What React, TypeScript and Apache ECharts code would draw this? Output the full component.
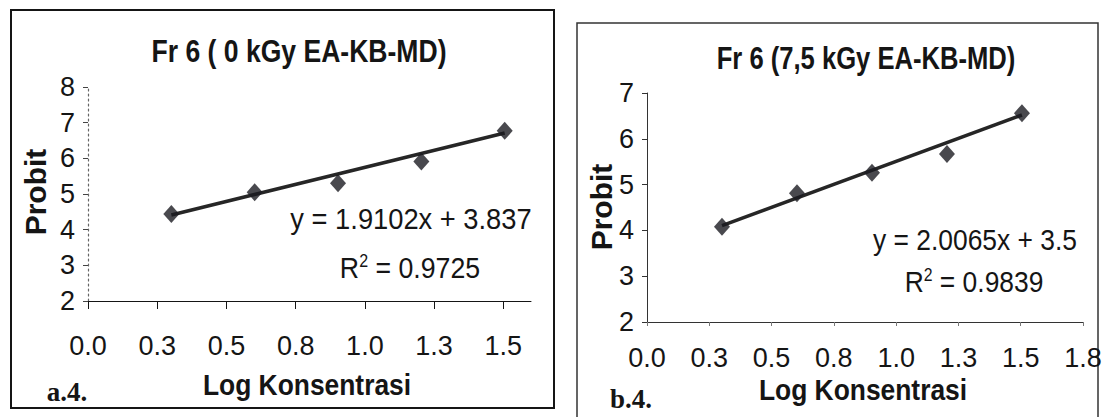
import React, { useEffect, useRef } from 'react';
import * as echarts from 'echarts';

// ---- data ----
const logConc = [0.301, 0.602, 0.903, 1.204, 1.505];
const probitA = [4.44, 5.05, 5.3, 5.91, 6.77];
const probitB = [4.08, 4.81, 5.26, 5.67, 6.56];
const slopeA = 1.9102;
const interceptA = 3.837;
const r2A = '0.9725';
const slopeB = 2.0065;
const interceptB = 3.5;
const r2B = '0.9839';
const xTicksA = [0, 0.25, 0.5, 0.75, 1, 1.25, 1.5];
const titleA = 'Fr 6 ( 0 kGy EA-KB-MD)';
const titleB = 'Fr 6 (7,5 kGy EA-KB-MD)';
const xTitle = 'Log Konsentrasi';
const yTitle = 'Probit';
const panelA = 'a.4.';
const panelB = 'b.4.';

const FONT = "'Liberation Sans', Arial, sans-serif";
const SERIF = "'Liberation Serif', 'Times New Roman', serif";
const INK = '#151515';

const trend = (slope: number, intercept: number) => [
  [logConc[0], slope * logConc[0] + intercept],
  [logConc[logConc.length - 1], slope * logConc[logConc.length - 1] + intercept],
];

const pts = (ys: number[]) => logConc.map((x, i) => [x, ys[i]]);

const fmt = (v: number) => v.toFixed(1);

export default function App() {
  const ref = useRef<HTMLDivElement>(null);
  useEffect(() => {
    if (!ref.current) return;
    const chart = echarts.init(ref.current, null, { renderer: 'svg' });
    const txt = (text: string, x: number, y: number, size: number, bold: boolean, sx = 1, family = FONT, extra: any = {}) => ({
      type: 'text',
      x,
      y,
      scaleX: sx,
      ...extra,
      style: {
        text,
        fill: INK,
        font: `${bold ? 'bold ' : ''}${size}px ${family}`,
        textAlign: 'center',
        textVerticalAlign: 'middle',
      },
    });
    const r2 = (val: string, x: number, y: number, sx: number) => ({
      type: 'text',
      x,
      y,
      scaleX: sx,
      style: {
        text: `{b|R}{s|2}{b| = ${val}}`,
        fill: INK,
        textAlign: 'center',
        textVerticalAlign: 'middle',
        rich: {
          b: { fontSize: 30, fontFamily: FONT, fill: INK, verticalAlign: 'bottom', lineHeight: 30 },
          s: { fontSize: 18, fontFamily: FONT, fill: INK, verticalAlign: 'top', lineHeight: 30, padding: [0, 0, 14, 0] },
        },
      },
    });
    const xAxisCommon = {
      type: 'value',
      min: 0,
      splitLine: { show: false },
      axisLine: { onZero: false, lineStyle: { color: INK, width: 1 } },
    };
    const yAxisCommon = {
      type: 'value',
      min: 2,
      interval: 1,
      splitLine: { show: false },
      axisLabel: { fontSize: 27, fontFamily: FONT, color: INK, margin: 13 },
    };
    chart.setOption({
      animation: false,
      backgroundColor: '#ffffff',
      grid: [
        { left: 88, top: 87, width: 443, height: 214, outerBoundsMode: 'none', containLabel: false },
        { left: 647, top: 93, width: 436, height: 229, outerBoundsMode: 'none', containLabel: false },
      ],
      xAxis: [
        {
          ...xAxisCommon,
          gridIndex: 0,
          max: 1.6,
          axisTick: { customValues: xTicksA, length: 8, lineStyle: { color: INK } },
          axisLabel: { customValues: xTicksA, formatter: fmt, fontSize: 27, fontFamily: FONT, color: INK, margin: 31 },
        },
        {
          ...xAxisCommon,
          gridIndex: 1,
          max: 1.75,
          interval: 0.25,
          axisLine: { onZero: false, lineStyle: { color: '#333', width: 1 } },
          axisTick: { length: 4, lineStyle: { color: '#777' } },
          axisLabel: { formatter: fmt, fontSize: 27, fontFamily: FONT, color: INK, margin: 22 },
        },
      ],
      yAxis: [
        {
          ...yAxisCommon,
          gridIndex: 0,
          max: 8,
          axisLine: { show: true, lineStyle: { color: '#666', type: [2, 3], width: 1.2 } },
          axisTick: { show: true, length: 5, lineStyle: { color: '#444' } },
        },
        {
          ...yAxisCommon,
          gridIndex: 1,
          max: 7,
          axisLine: { show: true, lineStyle: { color: '#333', width: 1 } },
          axisTick: { show: true, length: 5, lineStyle: { color: '#333' } },
        },
      ],
      series: [
        {
          type: 'line',
          xAxisIndex: 0,
          yAxisIndex: 0,
          data: trend(slopeA, interceptA),
          symbol: 'none',
          lineStyle: { color: '#262626', width: 3.5 },
          z: 2,
        },
        {
          type: 'scatter',
          xAxisIndex: 0,
          yAxisIndex: 0,
          data: pts(probitA),
          symbol: 'diamond',
          symbolSize: [16, 18],
          itemStyle: { color: '#1c1c22' },
          z: 3,
        },
        {
          type: 'line',
          xAxisIndex: 1,
          yAxisIndex: 1,
          data: trend(slopeB, interceptB),
          symbol: 'none',
          lineStyle: { color: '#262626', width: 3.5 },
          z: 2,
        },
        {
          type: 'scatter',
          xAxisIndex: 1,
          yAxisIndex: 1,
          data: pts(probitB),
          symbol: 'diamond',
          symbolSize: [16, 18],
          itemStyle: { color: '#1c1c22' },
          z: 3,
        },
      ],
      graphic: [
        { type: 'rect', shape: { x: 11, y: 10, width: 543, height: 398 }, style: { fill: 'none', stroke: INK, lineWidth: 2 } },
        { type: 'rect', shape: { x: 577, y: 23, width: 521, height: 420 }, style: { fill: 'none', stroke: '#333', lineWidth: 1.5 } },
        txt(titleA, 299, 51, 32, true, 0.83),
        txt(titleB, 866, 58, 32, true, 0.8),
        txt(yTitle, 35, 192, 30, true, 1, FONT, { rotation: Math.PI / 2 }),
        txt(yTitle, 601, 207, 30, true, 1, FONT, { rotation: Math.PI / 2 }),
        txt(xTitle, 307, 384, 30, true, 0.88),
        txt(xTitle, 863, 389, 30, true, 0.88),
        txt(panelA, 67, 392, 27, true, 1, SERIF),
        txt(panelB, 631, 399, 27, true, 1, SERIF),
        txt(`y = ${slopeA}x + ${interceptA}`, 411, 219, 30, false, 0.91),
        r2(r2A, 410, 267, 0.89),
        txt(`y = ${slopeB}x + ${interceptB}`, 975, 239, 30, false, 0.88),
        r2(r2B, 974, 281, 0.88),
      ],
    });
    return () => chart.dispose();
  }, []);
  return <div ref={ref} style={{ position: 'fixed', left: 0, top: 0, width: 1104, height: 417 }} />;
}
